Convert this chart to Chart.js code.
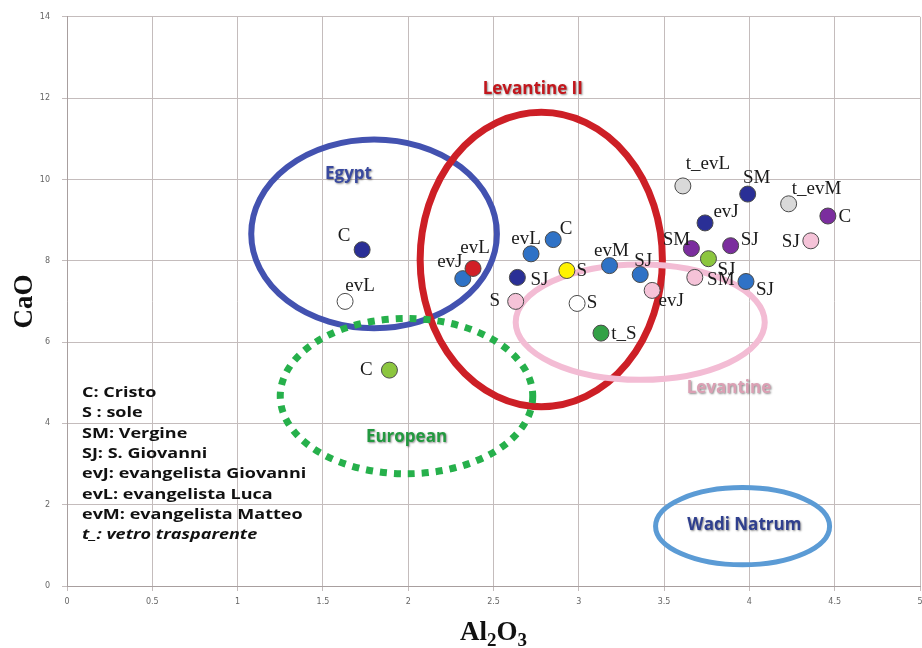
<!DOCTYPE html>
<html>
<head>
<meta charset="utf-8">
<script src="https://cdn.jsdelivr.net/npm/chart.js@4.4.0/dist/chart.umd.min.js"></script>
<style>
  html, body { margin: 0; padding: 0; background: #fff; }
  #wrap { width: 922px; height: 648px; }
</style>
</head>
<body>
<div id="wrap"><canvas id="chart" width="922" height="648"></canvas></div>
<script>
// campioni (Al2O3, CaO)
const sampleLabels = ['C', 'evL', 'C', 'evJ', 'evL', 'evL', 'C', 'SJ', 'S', 'S', 'evM', 'SJ', 'evJ', 'S', 't_S',
    't_evL', 'SM', 'evJ', 'SM', 'SJ', 'SJ', 'SM', 'SJ', 't_evM', 'C', 'SJ'];
const al2o3 = [1.73, 1.63, 1.89, 2.32, 2.38, 2.72, 2.85, 2.64, 2.63, 2.93, 3.18, 3.36, 3.43, 2.99, 3.13,
    3.61, 3.99, 3.74, 3.66, 3.89, 3.76, 3.68, 3.98, 4.23, 4.46, 4.36];
const cao = [8.27, 7.0, 5.31, 7.56, 7.81, 8.17, 8.52, 7.59, 7.0, 7.76, 7.88, 7.66, 7.27, 6.95, 6.22,
    9.84, 9.64, 8.93, 8.30, 8.37, 8.05, 7.59, 7.49, 9.40, 9.10, 8.49];
const sampleGroup = ['navy', 'white', 'lime', 'blue', 'red', 'blue', 'blue', 'navy', 'pink', 'yellow', 'blue', 'blue', 'pink', 'white', 'green',
    'grey', 'navy', 'navy', 'purple', 'purple', 'lime', 'pink', 'blue', 'grey', 'purple', 'pink'];

// gruppi di riferimento (ellissi in unità dei dati)
const regionNames = ['Egypt', 'Levantine II', 'Levantine', 'European', 'Wadi Natrum'];
const regionCx = [1.80, 2.78, 3.36, 1.99, 3.96];
const regionCy = [8.66, 8.03, 6.49, 4.67, 1.47];
const regionRx = [0.72, 0.71, 0.73, 0.74, 0.51];
const regionRy = [2.32, 3.62, 1.42, 1.91, 0.95];
const regionLabelX = [1.65, 2.73, 3.88, 1.99, 3.97];
const regionLabelY = [10.13, 12.21, 4.87, 3.65, 1.50];

// legenda delle sigle
const legendLines = ['C: Cristo', 'S : sole', 'SM: Vergine', 'SJ: S. Giovanni', 'evJ: evangelista Giovanni',
    'evL: evangelista Luca', 'evM: evangelista Matteo', 't_: vetro trasparente'];

const xTicks = { min: 0, max: 5, step: 0.5 };
const yTicks = { min: 0, max: 14, step: 2 };

// stili
const groupColors = {
    navy: '#2a2f96', blue: '#2f72c6', red: '#d11f26', white: '#ffffff', lime: '#8cc63f',
    green: '#33a146', pink: '#f5c3d8', yellow: '#fff200', purple: '#7b2d9e', grey: '#d9d9d9'
};
const regionStyles = [
    { color: '#4352b0', width: 6, dash: [], text: '#3a4a9f' },
    { color: '#cd1f26', width: 7, dash: [], text: '#c3161c' },
    { color: '#f3bcd4', width: 6, dash: [], text: '#dba0b4' },
    { color: '#26b04b', width: 7, dash: [7, 7], text: '#22993f' },
    { color: '#5b9bd5', width: 5, dash: [], text: '#2f3f8e' }
];
const labelOffsets = [[-18, -14], [15, -15], [-23, 0], [-13, -17], [2, -20], [-5, -15], [13, -11], [22, 3], [-21, 0], [15, 1],
    [2, -15], [3, -14], [19, 11], [15, 0], [23, 1], [25, -22], [9, -16], [21, -11], [-15, -9], [19, -6], [18, 11], [26, 3],
    [19, 9], [28, -15], [17, 1], [-20, 1]];

const points = al2o3.map((x, i) => ({ x: x, y: cao[i] }));

function drawSub(ctx, parts, cx, cy) {
    // parti: [testo, è pedice]
    const big = 'bold 27px "Liberation Serif"', small = 'bold 19px "Liberation Serif"';
    let w = 0;
    parts.forEach(p => { ctx.font = p[1] ? small : big; w += ctx.measureText(p[0]).width; });
    let x = cx - w / 2;
    ctx.textAlign = 'left';
    ctx.textBaseline = 'alphabetic';
    parts.forEach(p => {
        ctx.font = p[1] ? small : big;
        ctx.fillText(p[0], x, cy + (p[1] ? 6 : 0));
        x += ctx.measureText(p[0]).width;
    });
}

const regionsPlugin = {
    id: 'regions',
    beforeDatasetsDraw(chart) {
        const ctx = chart.ctx;
        const xs = chart.scales.x, ys = chart.scales.y;
        ctx.save();
        regionNames.forEach((name, i) => {
            const cx = xs.getPixelForValue(regionCx[i]);
            const cy = ys.getPixelForValue(regionCy[i]);
            const rx = Math.abs(xs.getPixelForValue(regionCx[i] + regionRx[i]) - cx);
            const ry = Math.abs(ys.getPixelForValue(regionCy[i] + regionRy[i]) - cy);
            const st = regionStyles[i];
            ctx.beginPath();
            ctx.ellipse(cx, cy, rx, ry, 0, 0, Math.PI * 2);
            ctx.strokeStyle = st.color;
            ctx.lineWidth = st.width;
            ctx.setLineDash(st.dash);
            ctx.lineCap = 'butt';
            ctx.stroke();
        });
        ctx.setLineDash([]);
        ctx.restore();
    },
    afterDatasetsDraw(chart) {
        const ctx = chart.ctx;
        const xs = chart.scales.x, ys = chart.scales.y;
        const area = chart.chartArea;
        ctx.save();
        // nomi dei gruppi
        ctx.textAlign = 'center';
        ctx.textBaseline = 'middle';
        ctx.font = 'bold 17px "Open Sans"';
        regionNames.forEach((name, i) => {
            ctx.shadowColor = 'rgba(0,0,0,0.45)';
            ctx.shadowBlur = 2;
            ctx.shadowOffsetX = 1;
            ctx.shadowOffsetY = 1;
            ctx.fillStyle = regionStyles[i].text;
            ctx.fillText(name, xs.getPixelForValue(regionLabelX[i]), ys.getPixelForValue(regionLabelY[i]));
        });
        ctx.shadowColor = 'transparent';
        ctx.shadowBlur = 0;
        ctx.shadowOffsetX = 0;
        ctx.shadowOffsetY = 0;

        // etichette dei campioni
        ctx.font = '19px "Liberation Serif"';
        ctx.fillStyle = '#1a1a1a';
        sampleLabels.forEach((lab, i) => {
            const px = xs.getPixelForValue(al2o3[i]) + labelOffsets[i][0];
            const py = ys.getPixelForValue(cao[i]) + labelOffsets[i][1];
            ctx.fillText(lab, px, py);
        });

        // legenda (testo un po' allargato come nell'originale)
        ctx.textAlign = 'left';
        ctx.fillStyle = '#111';
        const lx = area.left + 15;
        let ly = ys.getPixelForValue(4.75);
        legendLines.forEach((line, i) => {
            ctx.font = (i === legendLines.length - 1 ? 'italic ' : '') + 'bold 15px "Open Sans"';
            ctx.save();
            ctx.translate(lx, ly);
            ctx.scale(1.2, 1);
            ctx.fillText(line, 0, 0);
            ctx.restore();
            ly += 20.3;
        });

        // titoli degli assi
        ctx.fillStyle = '#111';
        drawSub(ctx, [['Al', false], ['2', true], ['O', false], ['3', true]], (area.left + area.right) / 2, 640);
        ctx.save();
        ctx.translate(25, (area.top + area.bottom) / 2);
        ctx.rotate(-Math.PI / 2);
        ctx.textAlign = 'center';
        ctx.textBaseline = 'middle';
        ctx.font = 'bold 27px "Liberation Serif"';
        ctx.fillText('CaO', 0, 0);
        ctx.restore();
        ctx.restore();
    }
};

new Chart(document.getElementById('chart'), {
    type: 'scatter',
    data: {
        datasets: [{
            label: 'campioni',
            data: points,
            pointRadius: 8,
            pointHoverRadius: 8,
            pointBackgroundColor: sampleGroup.map(g => groupColors[g]),
            pointBorderColor: '#4a4a4a',
            pointBorderWidth: 1
        }]
    },
    options: {
        responsive: false,
        animation: false,
        layout: { autoPadding: false, padding: { top: 15, right: 2, left: 0, bottom: 0 } },
        plugins: {
            legend: { display: false },
            tooltip: { enabled: false }
        },
        scales: {
            x: {
                type: 'linear',
                min: xTicks.min,
                max: xTicks.max,
                ticks: { stepSize: xTicks.step, color: '#666', font: { family: 'DejaVu Sans', size: 8 }, padding: 6,
                    callback: v => String(v) },
                grid: { color: '#c4bcbc', tickLength: 5 },
                border: { color: '#a89f9f' },
                afterFit: s => { s.height = 62; s.paddingRight = 0; s.paddingLeft = 0; }
            },
            y: {
                type: 'linear',
                min: yTicks.min,
                max: yTicks.max,
                ticks: { stepSize: yTicks.step, color: '#666', font: { family: 'DejaVu Sans', size: 8 }, padding: 12 },
                grid: { color: '#c4bcbc', tickLength: 5 },
                border: { color: '#a89f9f' },
                afterFit: s => { s.width = 67; }
            }
        }
    },
    plugins: [regionsPlugin]
});
</script>
</body>
</html>
